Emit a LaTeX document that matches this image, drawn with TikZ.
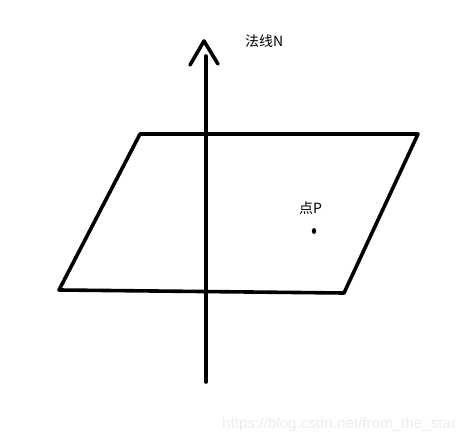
\documentclass[tikz,border=0pt]{standalone}
\usepackage{fontspec}
\newfontfamily\cjk{Noto Sans CJK SC}
\setmainfont{Liberation Sans}
\begin{document}
\begin{tikzpicture}[x=1pt,y=-1pt,
  stroke/.style={line width=3.6pt, line cap=round, line join=round, black},
  lbl/.style={font=\cjk\fontsize{14}{16}\selectfont, inner sep=0pt, text=black},
  wm/.style={font=\fontsize{15.2}{17}\selectfont, inner sep=0pt, text=black!7}]
\useasboundingbox (0,0) rectangle (474,444);
\coordinate (tl) at (140,134);
\coordinate (tr) at (418,134);
\coordinate (br) at (344,293);
\coordinate (bl) at (59,290);
\draw[stroke] (tl) -- (tr) -- (br) -- (bl) -- cycle;
\coordinate (axb) at (206,382);
\coordinate (axt) at (206,56);
\draw[stroke] (axb) -- (axt);
\coordinate (tip) at (204,41);
\coordinate (al) at (190,65);
\coordinate (ar) at (218,64);
\draw[stroke] (al) -- (tip) -- (ar);
\node[lbl, anchor=west] (n) at (245,41) {法线N};
\node[lbl, anchor=west] (p) at (299,208) {点P};
\fill (314,231) ellipse (2.2pt and 3pt);
\node[wm, anchor=west] (w) at (222,425) {https://blog.csdn.net/from\_the\_star};
\end{tikzpicture}
\end{document}
